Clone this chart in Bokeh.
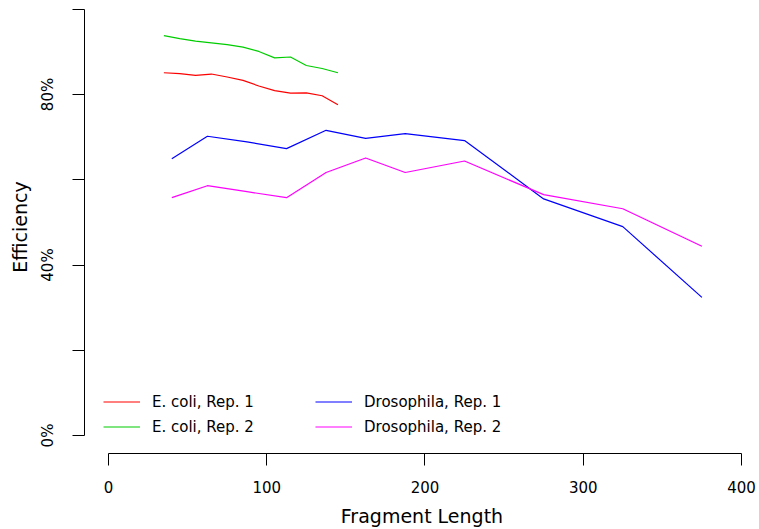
from bokeh.plotting import figure
from bokeh.models import Range1d, FixedTicker, NumeralTickFormatter, Legend, LegendItem
from bokeh.embed import file_html
from bokeh.resources import INLINE

# ---- data ----
ecoli_len = [35, 45, 55, 65, 75, 85, 95, 105, 115, 125, 135, 145]
ecoli_rep1 = [0.851, 0.849, 0.845, 0.848, 0.841, 0.833, 0.820, 0.809, 0.803, 0.804, 0.797, 0.776]
ecoli_rep2 = [0.938, 0.931, 0.925, 0.921, 0.917, 0.911, 0.901, 0.886, 0.888, 0.868, 0.861, 0.851]

dros_len = [40, 62.5, 87.5, 112.5, 137.5, 162.5, 187.5, 225, 275, 325, 375]
dros_rep1 = [0.649, 0.702, 0.689, 0.673, 0.716, 0.697, 0.708, 0.692, 0.555, 0.490, 0.324]
dros_rep2 = [0.558, 0.586, 0.572, 0.558, 0.617, 0.651, 0.617, 0.644, 0.565, 0.532, 0.444]

series_names = ["E. coli, Rep. 1", "E. coli, Rep. 2", "Drosophila, Rep. 1", "Drosophila, Rep. 2"]
series_colors = ["#FF0000", "#00CD00", "#0000FF", "#FF00FF"]

x_ticks = [0, 100, 200, 300, 400]
y_ticks = [0, 0.2, 0.4, 0.6, 0.8, 1.0]
y_tick_labels = ["0%", "", "40%", "", "80%", ""]

FONT = "DejaVu Sans"

p = figure(width=759, height=529, output_backend="svg", toolbar_location=None,
           x_range=Range1d(-15.17, 411.4), y_range=Range1d(-0.0422, 1.0205),
           min_border_left=84, min_border_bottom=76, min_border_top=0, min_border_right=0)
p.outline_line_color = None
p.xgrid.visible = False
p.ygrid.visible = False
p.background_fill_color = "white"
p.border_fill_color = "white"

r1 = p.line(ecoli_len, ecoli_rep1, line_color=series_colors[0], line_width=1.2)
r2 = p.line(ecoli_len, ecoli_rep2, line_color=series_colors[1], line_width=1.2)
r3 = p.line(dros_len, dros_rep1, line_color=series_colors[2], line_width=1.2)
r4 = p.line(dros_len, dros_rep2, line_color=series_colors[3], line_width=1.2)

# x axis
xa = p.xaxis[0]
xa.ticker = FixedTicker(ticks=x_ticks)
xa.bounds = (x_ticks[0], x_ticks[-1])
xa.axis_label = "Fragment Length"
xa.axis_label_text_font = FONT
xa.axis_label_text_font_size = "19px"
xa.axis_label_text_font_style = "normal"
xa.axis_label_text_color = "black"
xa.axis_label_standoff = 9
xa.major_label_text_font = FONT
xa.major_label_text_font_size = "15px"
xa.major_label_text_color = "black"
xa.major_label_standoff = 15
xa.major_tick_out = 12
xa.major_tick_in = 0
xa.minor_tick_out = 0
xa.minor_tick_in = 0
xa.axis_line_color = "black"
xa.major_tick_line_color = "black"

# y axis
ya = p.yaxis[0]
ya.ticker = FixedTicker(ticks=y_ticks)
ya.bounds = (y_ticks[0], y_ticks[-1])
ya.formatter = NumeralTickFormatter(format="0%")
ya.major_label_overrides = {t: l for t, l in zip(y_ticks, y_tick_labels)}
ya.major_label_orientation = "vertical"
ya.axis_label = "Efficiency"
ya.axis_label_text_font = FONT
ya.axis_label_text_font_size = "19px"
ya.axis_label_text_font_style = "normal"
ya.axis_label_text_color = "black"
ya.axis_label_standoff = 6
ya.major_label_text_font = FONT
ya.major_label_text_font_size = "15px"
ya.major_label_text_color = "black"
ya.major_label_standoff = 15
ya.major_tick_out = 12
ya.major_tick_in = 0
ya.minor_tick_out = 0
ya.minor_tick_in = 0
ya.axis_line_color = "black"
ya.major_tick_line_color = "black"

def make_legend(items, loc):
    lg = Legend(items=items, location=loc, orientation="vertical")
    lg.border_line_color = None
    lg.background_fill_alpha = 0
    lg.label_text_font = FONT
    lg.label_text_font_size = "15px"
    lg.label_text_color = "black"
    lg.glyph_width = 37
    lg.glyph_height = 21
    lg.label_height = 21
    lg.label_standoff = 12
    lg.spacing = 4
    lg.padding = 0
    lg.margin = 0
    return lg

leg1 = make_legend([LegendItem(label=series_names[0], renderers=[r1]),
                    LegendItem(label=series_names[1], renderers=[r2])], (19, 16))
leg2 = make_legend([LegendItem(label=series_names[2], renderers=[r3]),
                    LegendItem(label=series_names[3], renderers=[r4])], (231, 16))
p.add_layout(leg1, "center")
p.add_layout(leg2, "center")

open("out.html", "w").write(file_html(p, INLINE))
